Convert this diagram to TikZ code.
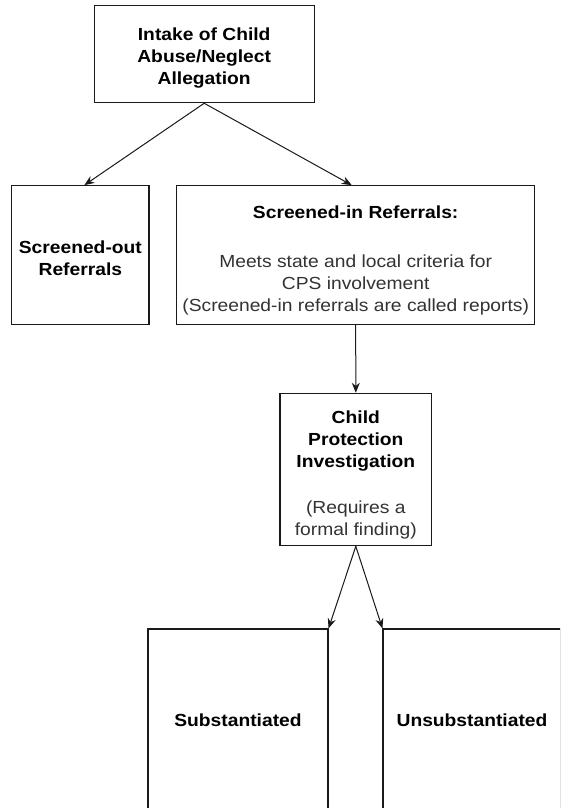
\documentclass[tikz,border=0pt]{standalone}
\usepackage{fontspec}
\setmainfont[FakeStretch=1.1]{Liberation Sans}
\usetikzlibrary{arrows.meta}
\definecolor{txtgray}{HTML}{333333}
\definecolor{linegray}{HTML}{1A1A1A}
\newcommand\topstrut[1]{\rule{0pt}{#1}}
\begin{document}
\begin{tikzpicture}[x=1pt,y=-1pt,
  box/.style={draw=linegray, line width=1.1pt, inner sep=0pt, align=center,
    font=\fontsize{17.5}{22}\selectfont, text=black},
  arr/.style={-{Stealth[length=10pt,width=8pt]}, line width=1pt, draw=linegray}]
\useasboundingbox (0,0) rectangle (560,808);
\clip (0,0) rectangle (560,808);
\fill[white] (0,0) rectangle (560,808);
\node[box, minimum width=220.3pt, minimum height=97.2pt] (top) at (204.2,54.1)
  {\topstrut{20.5pt}\textbf{Intake of Child}\\\textbf{Abuse/Neglect}\\\textbf{Allegation}};
\node[box, minimum width=137.3pt, minimum height=138.6pt] (out) at (80.35,255)
  {\topstrut{18.5pt}\textbf{Screened-out}\\\textbf{Referrals}};
\node[box, minimum width=358pt, minimum height=138.6pt] (in) at (355.7,255)
  {\topstrut{23.5pt}\textbf{Screened-in Referrals:}\\[27pt]
   \textcolor{txtgray}{Meets state and local criteria for}\\
   \textcolor{txtgray}{CPS involvement}\\
   \textcolor{txtgray}{(Screened-in referrals are called reports)}};
\node[box, minimum width=151.7pt, minimum height=152.4pt] (cpi) at (355.8,469.5)
  {\topstrut{23.5pt}\textbf{Child}\\\textbf{Protection}\\\textbf{Investigation}\\[24pt]
   \textcolor{txtgray}{(Requires a}\\\textcolor{txtgray}{formal finding)}};
\node[box, minimum width=180pt, minimum height=182pt] (sub) at (238,720)
  {\textbf{Substantiated}};
\node[box, minimum width=178pt, minimum height=182pt] (uns) at (472,720)
  {\textbf{Unsubstantiated}};
\draw[arr] (top.south) -- ([xshift=4pt]out.north);
\draw[arr] (top.south) -- ([xshift=-4pt]in.north);
\draw[arr] (in.south) -- (cpi.north);
\draw[arr] (cpi.south) -- (sub.north east);
\draw[arr] (cpi.south) -- (uns.north west);
\end{tikzpicture}
\end{document}
